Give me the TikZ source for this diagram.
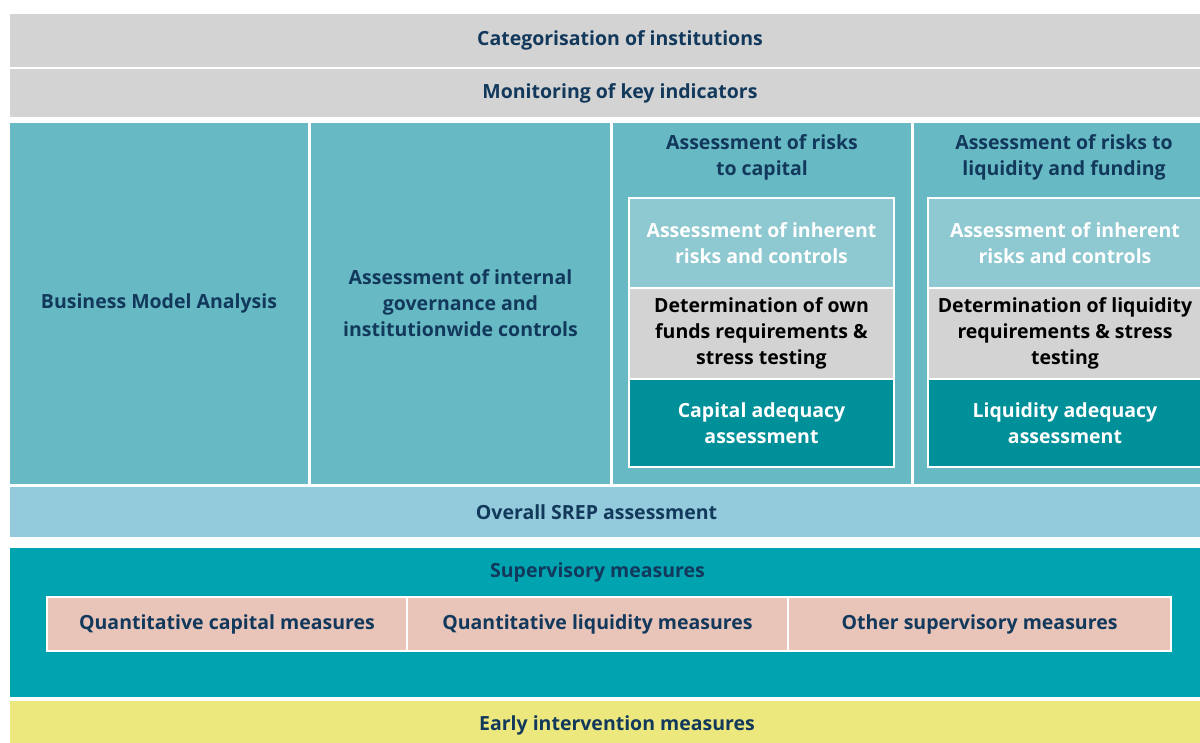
\documentclass[tikz,border=0pt]{standalone}
\usepackage{fontspec}
\setmainfont{Open Sans}
\usetikzlibrary{positioning}
\definecolor{greybar}{HTML}{D3D3D3}
\definecolor{tealcol}{HTML}{67BAC4}
\definecolor{tealinh}{HTML}{8EC8D0}
\definecolor{tealdark}{HTML}{00909A}
\definecolor{srepblue}{HTML}{94CBDC}
\definecolor{supteal}{HTML}{00A4B0}
\definecolor{pinkbox}{HTML}{E8C4B9}
\definecolor{yellowbar}{HTML}{ECE87E}
\definecolor{navytext}{HTML}{12395C}

\begin{document}
\begin{tikzpicture}[
      x=1pt, y=-1pt,
      every node/.style={inner sep=0pt, outer sep=0pt, align=center, text=navytext,
        font=\fontsize{19.5}{26}\selectfont\bfseries},
      blk/.style={anchor=north west, fill=#1},
      frame/.style={blk=#1, draw=white, line width=2pt},
      head/.style={anchor=north}
    ]
    \useasboundingbox[fill=white] (0,0) rectangle (1200,742);
    % Barras do topo
    \node[blk=greybar, minimum width=1220, minimum height=53] (cat) at (10,14) {Categorisation of institutions};
    \node[blk=greybar, minimum width=1220, minimum height=48] (mon) at (10,69) {Monitoring of key indicators};
    % Colunas
    \node[blk=tealcol, minimum width=298, minimum height=361] (bma) at (10,123) {Business Model Analysis};
    \node[blk=tealcol, minimum width=299, minimum height=361] (gov) at (311,123) {Assessment of internal\\governance and\\institutionwide controls};
    \node[blk=tealcol, minimum width=298, minimum height=361] (capcol) at (613,123) {};
    \node[blk=tealcol, minimum width=292, minimum height=361] (liqcol) at (914,123) {};
    \node[head, below=12pt of capcol.north] (caphead) {Assessment of risks\\to capital};
    \node[head, below=12pt of liqcol.north, xshift=4pt] (liqhead) {Assessment of risks to\\liquidity and funding};
    % Capital
    \node[frame=tealinh, text=white, minimum width=265, minimum height=90] (capinh) at (629,198) {Assessment of inherent\\risks and controls};
    \node[frame=greybar, text=black, minimum width=265, minimum height=91] (capdet) at (capinh.south west) {Determination of own\\funds requirements \&\\stress testing};
    \node[frame=tealdark, text=white, minimum width=265, minimum height=88] (capadq) at (capdet.south west) {Capital adequacy\\assessment};
    % Liquidez
    \node[frame=tealinh, text=white, minimum width=274, minimum height=90] (liqinh) at (928,198) {Assessment of inherent\\risks and controls};
    \node[frame=greybar, text=black, minimum width=274, minimum height=91] (liqdet) at (liqinh.south west) {Determination of liquidity\\requirements \& stress\\testing};
    \node[frame=tealdark, text=white, minimum width=274, minimum height=88] (liqadq) at (liqdet.south west) {Liquidity adequacy\\assessment};
    % SREP e medidas
    \node[blk=srepblue, minimum width=1195, minimum height=50] (srep) at (10,487) {};
    \node[xshift=-11pt] (sreptxt) at (srep) {Overall SREP assessment};
    \node[blk=supteal, minimum width=1195, minimum height=149] (sup) at (10,548) {};
    \node[head, below=15pt of sup.north, xshift=-10pt] (suphead) {Supervisory measures};
    \node[frame=pinkbox, minimum width=360, minimum height=54] (qcap) at (47,597) {Quantitative capital measures};
    \node[frame=pinkbox, minimum width=381, minimum height=54] (qliq) at (qcap.north east) {Quantitative liquidity measures};
    \node[frame=pinkbox, minimum width=383, minimum height=54] (other) at (qliq.north east) {Other supervisory measures};
    \node[blk=yellowbar, minimum width=1214, minimum height=49] (eim) at (10,701) {Early intervention measures};
  \end{tikzpicture}
\end{document}
